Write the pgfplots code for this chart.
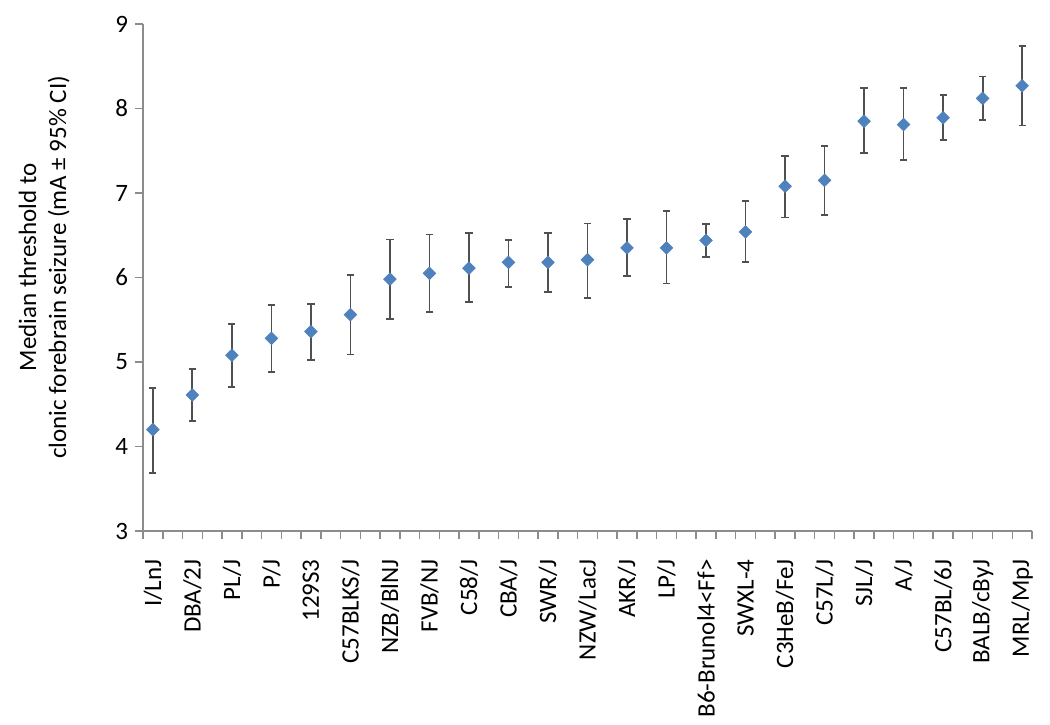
\documentclass[border=0pt]{standalone}
\usepackage{pgfplots}
\pgfplotsset{compat=1.18}
\usepackage{pgfplotstable}
\usepackage{fontspec}
\setmainfont{Carlito}
\definecolor{markblue}{HTML}{4F81BD}
\definecolor{axgray}{HTML}{8C8C8C}
\definecolor{errgray}{HTML}{505050}

% median threshold, CI half-widths (plus / minus)
\pgfplotstableread{
x  y     ep    em
0  4.20  0.49  0.51
1  4.61  0.31  0.31
2  5.08  0.37  0.38
3  5.28  0.39  0.40
4  5.36  0.33  0.34
5  5.56  0.47  0.47
6  5.98  0.47  0.47
7  6.05  0.46  0.46
8  6.11  0.42  0.40
9  6.18  0.26  0.29
10 6.18  0.35  0.35
11 6.21  0.43  0.45
12 6.35  0.34  0.33
13 6.35  0.44  0.42
14 6.44  0.19  0.20
15 6.54  0.37  0.36
16 7.08  0.36  0.37
17 7.15  0.41  0.41
18 7.85  0.39  0.38
19 7.81  0.43  0.42
20 7.89  0.27  0.26
21 8.12  0.26  0.26
22 8.27  0.47  0.47
}\strains

\begin{document}
\begin{tikzpicture}
\useasboundingbox (-71.5pt,-96.5pt) rectangle (453.5pt,265.5pt);
\begin{axis}[
  at={(0,0)}, anchor=south west,
  scale only axis,
  width=444.5pt, height=253.5pt,
  xmin=-0.25, xmax=22.25,
  ymin=3, ymax=9,
  axis x line=bottom, axis y line=left,
  axis line style={axgray, line width=0.75pt, -},
  tick align=outside,
  ytick={3,4,...,9},
  xtick={0,1,...,22},
  xticklabels={I/LnJ, DBA/2J, PL/J, P/J, 129S3, C57BLKS/J, NZB/BlNJ, FVB/NJ,
    C58/J, CBA/J, SWR/J, NZW/LacJ, AKR/J, LP/J, B6-Brunol4<Ff>, SWXL-4,
    C3HeB/FeJ, C57L/J, SJL/J, A/J, C57BL/6J, BALB/cByJ, MRL/MpJ},
  major x tick style={draw=none},
  minor xtick={-0.25,0.25,0.75,1.25,1.75,2.25,2.75,3.25,3.75,4.25,4.75,5.25,5.75,
    6.25,6.75,7.25,7.75,8.25,8.75,9.25,9.75,10.25,10.75,11.25,11.75,12.25,12.75,
    13.25,13.75,14.25,14.75,15.25,15.75,16.25,16.75,17.25,17.75,18.25,18.75,
    19.25,19.75,20.25,20.75,21.25,21.75,22.25},
  major tick length=4pt, minor tick length=4pt,
  tick style={axgray, line width=0.75pt},
  /pgf/number format/assume math mode=true,
  every tick label/.append style={font=\fontsize{12.5}{15}\selectfont, black},
  x tick label style={rotate=90, anchor=east, inner xsep=10pt},
  ylabel={Median threshold to\\clonic forebrain seizure (mA ± 95\% CI)},
  ylabel style={at={(axis description cs:-0.082,0.52)}, anchor=south,
    inner sep=0pt, align=center, font=\fontsize{12.5}{15}\selectfont},
  clip=false,
]
\addplot[only marks, mark=square*, mark size=2.2pt,
  mark options={rotate=45, fill=markblue, draw=markblue},
  error bars/.cd, y dir=both, y explicit,
  error bar style={errgray, line width=0.9pt},
  error mark options={errgray, line width=0.9pt, mark size=1.8pt, rotate=90}]
  table[x=x, y=y, y error plus=ep, y error minus=em] {\strains};
\end{axis}
\end{tikzpicture}
\end{document}
